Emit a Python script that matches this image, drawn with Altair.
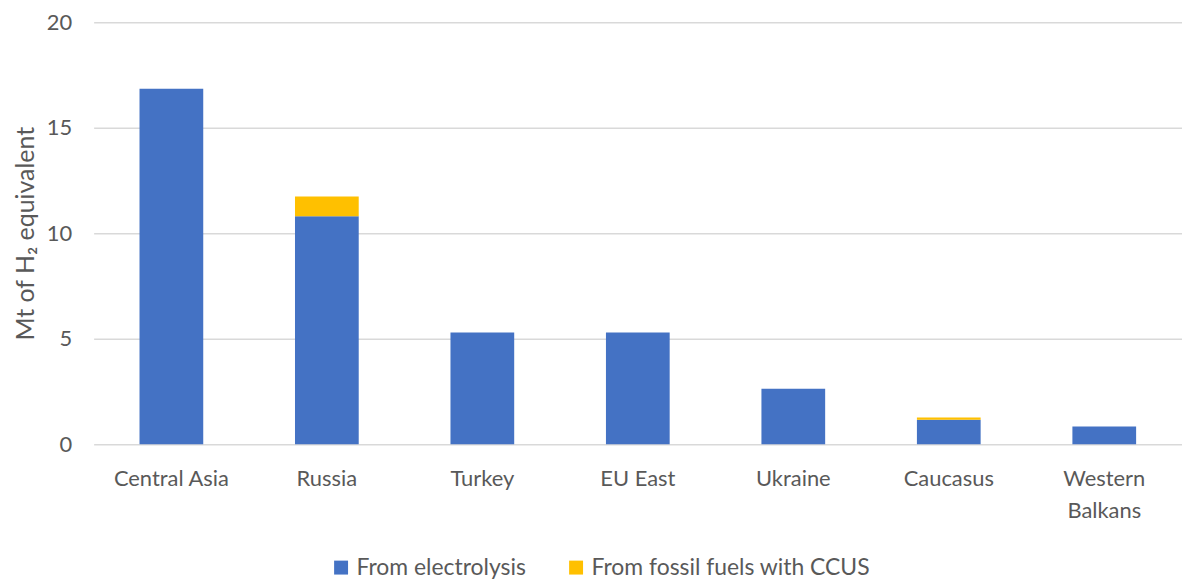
import altair as alt
import pandas as pd

regions = ["Central Asia", "Russia", "Turkey", "EU East", "Ukraine", "Caucasus", "Western Balkans"]
electrolysis = [16.85, 10.8, 5.3, 5.3, 2.63, 1.17, 0.85]
fossil_ccus = [0.0, 0.94, 0.0, 0.0, 0.0, 0.1, 0.0]
series = ["From electrolysis", "From fossil fuels with CCUS"]
colors = ["#4472C4", "#FFC000"]

rows = []
for r, e, f in zip(regions, electrolysis, fossil_ccus):
    rows.append({"region": r, "source": series[0], "value": e, "ord": 0})
    rows.append({"region": r, "source": series[1], "value": f, "ord": 1})
df = pd.DataFrame(rows)

FONT = "Lato"
GREY = "#595959"
chart = alt.Chart(df).mark_bar(size=64).encode(
    x=alt.X("region:N", sort=regions, title=None,
            scale=alt.Scale(paddingInner=0.0, paddingOuter=0.0),
            axis=alt.Axis(labelAngle=0, labelFontSize=22, labelColor=GREY,
                          labelFont=FONT, ticks=False, domain=False, labelPadding=24,
                          labelLineHeight=32, labelLimit=0,
                          labelExpr="datum.label == 'Western Balkans' ? ['Western', 'Balkans'] : datum.label")),
    y=alt.Y("value:Q", stack="zero", title="Mt of H₂ equivalent",
            scale=alt.Scale(domain=[0, 20]),
            axis=alt.Axis(values=[0, 5, 10, 15, 20], labelFontSize=22, labelColor=GREY,
                          labelFont=FONT, titleFont=FONT, titleFontSize=25, titleColor=GREY,
                          titleFontWeight="normal", ticks=False, domain=False, gridColor="#D9D9D9",
                          gridWidth=1.5, labelPadding=22, titlePadding=8)),
    color=alt.Color("source:N", scale=alt.Scale(domain=series, range=colors),
                    legend=alt.Legend(orient="none", direction="horizontal", title=None,
                                      legendX=237, legendY=536,
                                      labelFontSize=23, labelFont=FONT, labelColor=GREY,
                                      labelLimit=0, labelOffset=4,
                                      symbolType="square", symbolSize=196, symbolStrokeWidth=0,
                                      columnPadding=38)),
    order=alt.Order("ord:Q"),
).properties(width=1093, height=424, padding={"top": 2, "left": 5, "right": 0, "bottom": 0}
).configure_view(stroke=None)

chart.save("out.html", embed_options={"renderer": "svg", "actions": False})
